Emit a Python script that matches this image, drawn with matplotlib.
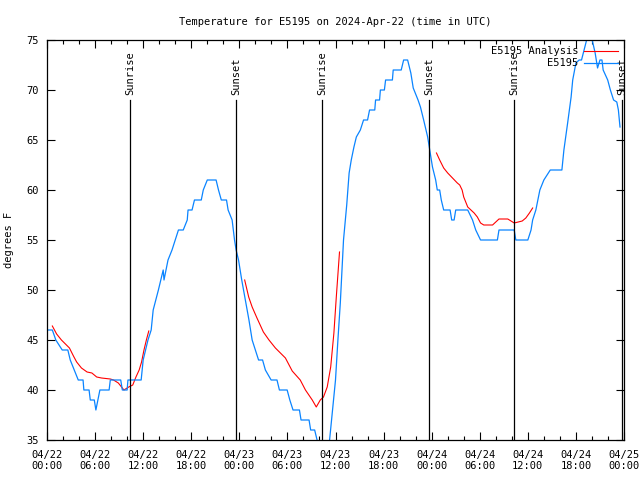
import numpy as np
import matplotlib
matplotlib.use('Agg')
import matplotlib.pyplot as plt
import matplotlib.dates as mdates

# Observed temperature (hours since 2024-04-22 00:00 UTC, deg F)
blue_hours = [0.0, 0.66, 1.1, 1.9, 2.6, 2.9, 3.4, 3.9, 4.5, 4.6, 5.25, 5.4, 5.9, 6.1,
              6.6, 7.75, 7.9, 9.2, 9.4, 10.0, 10.1, 11.75, 12.0, 12.6, 13.0, 13.25,
              13.9, 14.5, 14.6, 15.1, 15.6, 16.0, 16.4, 17.0, 17.5, 17.6, 18.1, 18.4,
              19.25, 19.5, 20.0, 21.1, 21.4, 21.75, 22.4, 22.6, 23.1, 23.4, 23.6, 23.9,
              24.3, 24.75, 25.2, 25.6, 26.0, 26.4, 26.9, 27.25, 27.96, 28.7, 29.0,
              29.96, 30.3, 30.7, 31.5, 31.7, 32.7, 32.9, 33.4, 33.7, 34.4, 35.2, 35.6,
              36.0, 36.3, 36.6, 37.0, 37.4, 37.7, 37.96, 38.3, 38.6, 39.1, 39.5, 40.0,
              40.25, 40.9, 41.0, 41.5, 41.6, 42.1, 42.25, 43.1, 43.2, 44.2, 44.5, 45.0,
              45.4, 45.7, 46.3, 46.6, 47.0, 47.5, 47.7, 48.1, 48.5, 48.7, 49.0, 49.2,
              49.5, 50.3, 50.5, 50.8, 51.0, 52.5, 53.1, 53.5, 54.1, 56.2, 56.4, 58.3,
              58.5, 60.0, 60.4, 60.6, 61.0, 61.5, 62.0, 62.8, 64.25, 64.5, 64.96, 65.4,
              65.6, 66.0, 66.4, 66.7, 67.4, 67.7, 67.95, 68.4, 68.7, 69.0, 69.25, 69.4,
              69.96, 70.3, 70.7, 71.1, 71.3, 71.5]
blue_temp = [46, 46, 45, 44, 44, 43, 42, 41, 41, 40, 40, 39, 39, 38,
             40, 40, 41, 41, 40, 40, 41, 41, 43, 45, 46, 48,
             50, 52, 51, 53, 54, 55, 56, 56, 57, 58, 58, 59,
             59, 60, 61, 61, 60, 59, 59, 58, 57, 55, 54, 53,
             51, 49, 47, 45, 44, 43, 43, 42, 41, 41, 40,
             40, 39, 38, 38, 37, 37, 36, 36, 35, 34, 34.5, 37.7,
             41, 45, 48.7, 55, 58.5, 61.7, 63, 64.3, 65.3, 66, 67, 67,
             68, 68, 69, 69, 70, 70, 71, 71, 72, 72, 73, 73,
             71.7, 70.2, 69, 68.3, 67, 65.3, 64.3, 62.3, 61, 60, 60, 59,
             58, 58, 57, 57, 58, 58, 57, 56, 55, 55, 56, 56,
             55, 55, 56, 57, 58, 60, 61, 62, 62, 64, 66.7, 69.3,
             71, 72.7, 73, 73, 75.2, 76, 75.3, 73.7, 72.2, 73, 73, 72,
             71, 70, 69, 68.8, 68, 66.3]

# Analysis (three runs, nan = gap)
red_hours = [0.66, 1.2, 1.8, 2.8, 3.3, 3.7, 4.3, 5.0, 5.6, 6.2, 6.8, 7.9, 8.3, 8.9,
             9.3, 9.6, 10.2, 10.7, 11.1, 11.5, 11.8, 12.1, 12.4, 12.7,
             18.0,
             24.66, 25.16, 25.6, 26.2, 27.0, 27.7, 28.5, 29.75, 30.6, 31.6, 32.25,
             33.1, 33.6, 34.1, 34.5, 34.96, 35.4, 35.8, 36.1, 36.5,
             42.0,
             48.6, 49.0, 49.5, 50.0, 50.6, 51.2, 51.5, 51.8, 52.0, 52.5, 52.9, 53.3,
             53.7, 54.1, 54.5, 55.6, 56.4, 57.5, 58.3, 59.3, 59.75, 60.2, 60.6]
red_temp = [46.4, 45.6, 45, 44.2, 43.4, 42.8, 42.2, 41.8, 41.7, 41.3, 41.2, 41.1, 41, 40.7,
            40.3, 40, 40.3, 40.5, 41.3, 42, 42.8, 44, 45, 45.9,
            np.nan,
            51, 49.3, 48.3, 47.2, 45.8, 45, 44.2, 43.2, 41.9, 41, 40,
            39, 38.3, 39, 39.3, 40.3, 42.3, 45.7, 49.3, 53.8,
            np.nan,
            63.7, 63, 62.2, 61.7, 61.2, 60.7, 60.5, 60, 59.3, 58.3, 58, 57.7,
            57.3, 56.7, 56.5, 56.5, 57.1, 57.1, 56.7, 56.9, 57.2, 57.7, 58.2]

sun_labels = ['Sunrise', 'Sunset', 'Sunrise', 'Sunset', 'Sunrise', 'Sunset']
sun_times = ['2024-04-22T10:22', '2024-04-22T23:37', '2024-04-23T10:20',
             '2024-04-23T23:39', '2024-04-24T10:19', '2024-04-24T23:44']

start = np.datetime64('2024-04-22T00:00')


def to_time(hours):
    mins = np.round(np.array(hours, dtype=float) * 60)
    mins = np.nan_to_num(mins).astype('int64').astype('timedelta64[m]')
    return start + mins


plt.rcParams['font.family'] = 'DejaVu Sans Mono'
plt.rcParams['font.size'] = 7.5

fig = plt.figure(figsize=(6.4, 4.8), dpi=100)
ax = fig.add_axes([47 / 640, 40 / 480, 577 / 640, 400 / 480])

ax.plot(to_time(red_hours), red_temp, color='#ff0000', lw=0.8, label='E5195 Analysis')
ax.plot(to_time(blue_hours), blue_temp, color='#0a84ff', lw=0.9, label='E5195')

for lab, t in zip(sun_labels, sun_times):
    t = np.datetime64(t)
    ax.plot([t, t], [35, 69], color='black', lw=0.9)
    ax.text(t, 69.5, lab, rotation=90, ha='center', va='bottom')

ax.set_xlim(start, start + np.timedelta64(72, 'h'))
ax.set_ylim(35, 75)
ax.set_yticks(np.arange(35, 76, 5))
ax.xaxis.set_major_locator(mdates.HourLocator(byhour=[0, 6, 12, 18]))
ax.xaxis.set_minor_locator(mdates.HourLocator(interval=2))
ax.xaxis.set_major_formatter(mdates.DateFormatter('%m/%d\n%H:%M'))

ax.tick_params(which='both', direction='in', top=True, right=True, width=0.8)
ax.tick_params(which='major', length=6, pad=7)
ax.tick_params(which='minor', length=3)
ax.tick_params(axis='y', pad=6)
for s in ax.spines.values():
    s.set_linewidth(0.9)

ax.set_ylabel('degrees F')
ax.yaxis.set_label_coords(-0.057, 0.5)
ax.set_title('Temperature for E5195 on 2024-Apr-22 (time in UTC)', fontsize=7.5, pad=11)

ax.legend(loc='upper right', frameon=False, markerfirst=False, handlelength=3.2,
          borderaxespad=0.2, labelspacing=0.2, handletextpad=0.6)

fig.savefig('out.png', dpi=100)
